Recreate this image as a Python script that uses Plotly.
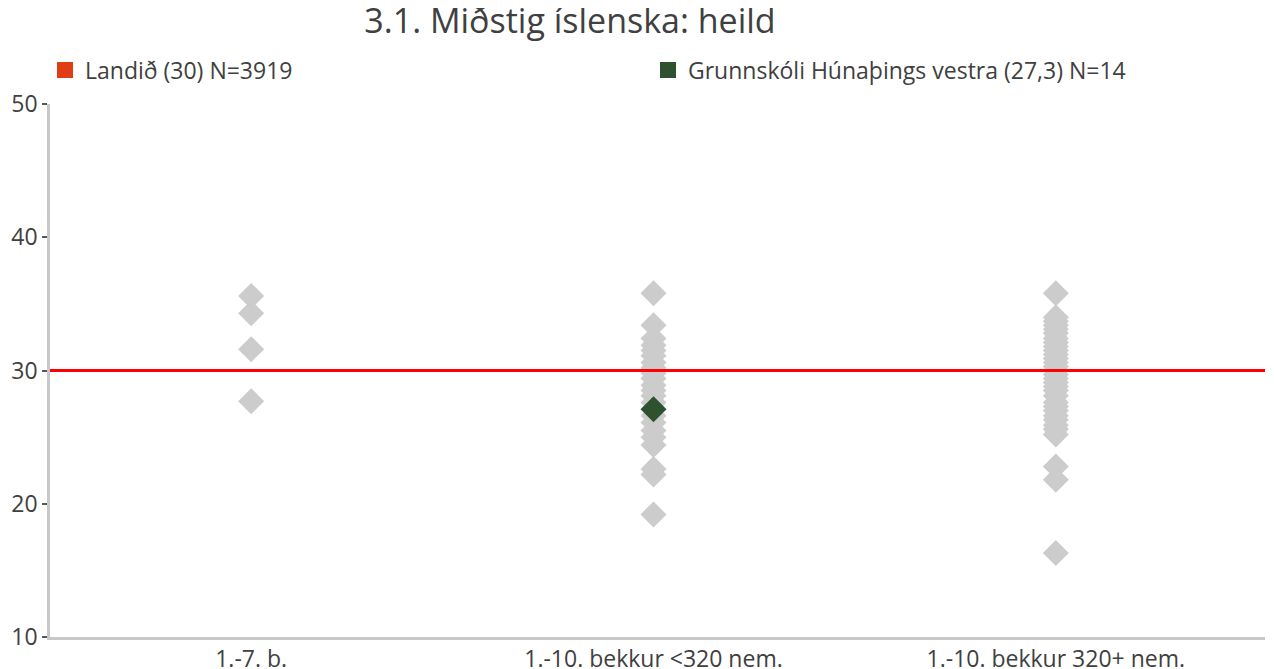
import plotly.graph_objects as go

title = "3.1. Miðstig íslenska: heild"
categories = ["1.-7. b.", "1.-10. bekkur <320 nem.", "1.-10. bekkur 320+ nem."]

# grey school averages per category
cat1_vals = [35.6, 34.3, 31.6, 27.7]
cat2_vals = [35.8, 33.4, 32.4, 31.9, 31.5, 31.1, 30.6, 30.2, 29.8, 29.4, 28.9,
             28.5, 28.1, 27.6, 26.6, 26.1, 25.5, 25.0, 24.4, 22.6, 22.2, 19.2]
cat3_vals = [35.8, 34.0, 33.7, 33.4, 33.1, 32.8, 32.4, 32.1, 31.8, 31.5, 31.2,
             30.9, 30.6, 30.3, 30.0, 29.7, 29.4, 29.1, 28.8, 28.5, 28.1, 27.6,
             27.3, 27.0, 26.6, 26.3, 25.9, 25.6, 25.2, 22.8, 21.8, 16.3]

school_name = "Grunnskóli Húnaþings vestra (27,3) N=14"
school_cat = "1.-10. bekkur <320 nem."
school_val = 27.1

national_name = "Landið (30) N=3919"
national_val = 30

y_ticks = [10, 20, 30, 40, 50]

GREY = "#cccccc"
GREEN = "#2e5230"
RED = "#ff0000"
RED_LEG = "#e03c16"
FONT = "Open Sans"
TXT = "#404040"

fig = go.Figure()

xs, ys = [], []
for cat, vals in zip(categories, [cat1_vals, cat2_vals, cat3_vals]):
    xs += [cat] * len(vals)
    ys += vals

fig.add_trace(go.Scatter(x=xs, y=ys, mode="markers",
                         marker=dict(symbol="diamond", size=20, color=GREY),
                         showlegend=False, hoverinfo="x+y"))
fig.add_trace(go.Scatter(x=[school_cat], y=[school_val], mode="markers",
                         marker=dict(symbol="diamond", size=20, color=GREEN),
                         showlegend=False, hoverinfo="x+y"))

# legend entries
fig.add_trace(go.Scatter(x=[None], y=[None], mode="markers", name=national_name,
                         marker=dict(symbol="square", size=18, color=RED_LEG),
                         legend="legend"))
fig.add_trace(go.Scatter(x=[None], y=[None], mode="markers", name=school_name,
                         marker=dict(symbol="square", size=18, color=GREEN),
                         legend="legend2"))

fig.add_shape(type="line", xref="paper", x0=0, x1=1, yref="y",
              y0=national_val, y1=national_val,
              line=dict(color=RED, width=3))

fig.update_layout(
    width=1274, height=669,
    margin=dict(l=42, r=17, t=96, b=40),
    paper_bgcolor="white", plot_bgcolor="white",
    font=dict(family=FONT, size=24, color=TXT),
    title=dict(text=title, x=562 / 1274, xanchor="center", xref="container",
               y=1 - 13 / 669, yanchor="middle", yref="container",
               font=dict(size=34, color=TXT, family=FONT)),
    legend=dict(xref="container", yref="container", x=37 / 1274, y=1 - 62 / 669,
                xanchor="left", yanchor="middle", orientation="h",
                font=dict(size=23), bgcolor="rgba(0,0,0,0)", itemclick=False),
    legend2=dict(xref="container", yref="container", x=640 / 1274, y=1 - 62 / 669,
                 xanchor="left", yanchor="middle", orientation="h",
                 font=dict(size=23), bgcolor="rgba(0,0,0,0)", itemclick=False),
    xaxis=dict(type="category", categoryorder="array", categoryarray=categories,
               range=[-0.5, 2.52], showgrid=False, showline=True,
               linecolor="#c8c8c8", linewidth=2.5, ticks="", zeroline=False,
               tickfont=dict(size=23), automargin=False),
    yaxis=dict(range=[10, 50], tickvals=y_ticks, showgrid=False, showline=True,
               linecolor="#c8c8c8", linewidth=2.5, ticks="outside", ticklen=5,
               tickwidth=1.5, tickcolor="#555555", zeroline=False,
               tickfont=dict(size=23), automargin=False),
)

fig.write_html("out.html")
